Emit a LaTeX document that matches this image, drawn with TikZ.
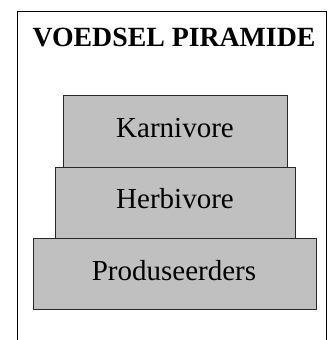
\documentclass[tikz,border=0pt]{standalone}
\usepackage{fontspec}
\setmainfont{Liberation Serif}
\definecolor{boxfill}{RGB}{192,192,192}
\definecolor{boxline}{RGB}{40,40,40}
\tikzset{
  x=1pt,y=1pt,
  layer/.style={draw=boxline,fill=boxfill,line width=1pt},
  lbl/.style={font=\fontsize{29}{32}\selectfont,anchor=base},
}
\begin{document}
\begin{tikzpicture}
\useasboundingbox (0,0) rectangle (334,340);
\draw[line width=1pt] (17,0) -- (17,328) -- (326,328) -- (326,0);
\node[font=\bfseries\fontsize{27.8}{30}\selectfont,anchor=base] (title) at (174,293) {VOEDSEL PIRAMIDE};
\draw[layer] (63,172) rectangle (287,244);
\draw[layer] (55,101) rectangle (295,172);
\draw[layer] (33,30) rectangle (316,101);
\node[lbl] (karn) at (175,202) {Karnivore};
\node[lbl] (herb) at (175,131) {Herbivore};
\node[lbl] (prod) at (174,59) {Produseerders};
\end{tikzpicture}
\end{document}
